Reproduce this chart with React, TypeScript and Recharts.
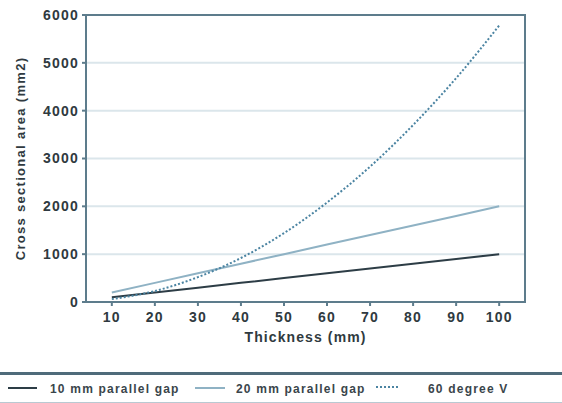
import { LineChart, Line, XAxis, YAxis, CartesianGrid, Legend, ReferenceArea } from "recharts";

const thickness = [10, 20, 30, 40, 50, 60, 70, 80, 90, 100];
const gap10 = [100, 200, 300, 400, 500, 600, 700, 800, 900, 1000];
const gap20 = [200, 400, 600, 800, 1000, 1200, 1400, 1600, 1800, 2000];
const vee60 = [60, 230, 520, 920, 1440, 2080, 2830, 3700, 4680, 5780];
const yTicks = [0, 1000, 2000, 3000, 4000, 5000, 6000];

const seriesNames = ["10 mm parallel gap", "20 mm parallel gap", "60 degree V"];

const data = thickness.map((t, i) => ({
  t,
  gap10: gap10[i],
  gap20: gap20[i],
  vee60: vee60[i],
}));

const FONT = "'Liberation Sans', Arial, sans-serif";
const TEXT = "#2f3a40";

const tickStyle = { fontFamily: FONT, fontSize: 14, fontWeight: 700, fill: TEXT, letterSpacing: 1.2 };
const legendText = { fontFamily: FONT, fontSize: 12, fontWeight: 700, fill: "#3a454b", letterSpacing: 1.2 };

const LegendBox = () => (
  <div
    style={{
      width: 562,
      height: 31,
      borderTop: "3px solid #4f6b7a",
      borderBottom: "1px solid #b9c9d2",
      boxSizing: "border-box",
      position: "relative",
    }}
  >
    <svg width={562} height={28} style={{ position: "absolute", left: 0, top: 0 }}>
      <line x1={8} x2={37} y1={13} y2={13} stroke="#2d3d46" strokeWidth={2} />
      <text x={50} y={18} style={legendText}>{seriesNames[0]}</text>
      <line x1={195} x2={225} y1={13} y2={13} stroke="#8fb2c4" strokeWidth={2} />
      <text x={236} y={18} style={legendText}>{seriesNames[1]}</text>
      <line x1={376} x2={400} y1={12} y2={12} stroke="#4b84a2" strokeWidth={2} strokeDasharray="2 2" />
      <text x={428} y={18} style={legendText}>{seriesNames[2]}</text>
    </svg>
  </div>
);

export default function App() {
  return (
    <div style={{ position: "absolute", left: 0, top: 0, width: 562, height: 403, background: "#fff" }}>
      <LineChart width={562} height={403} data={data} margin={{ top: 15, right: 37, bottom: 0, left: 0 }}>
        <CartesianGrid horizontal vertical={false} stroke="#dbe6eb" strokeWidth={2} />
        <XAxis
          dataKey="t"
          type="number"
          domain={[4, 106]}
          ticks={thickness}
          height={70}
          tickSize={4}
          stroke="#5d7c8c"
          strokeWidth={2}
          tick={tickStyle}
          tickMargin={6}
          label={{ value: "Thickness (mm)", position: "insideTop", offset: 30, style: { ...tickStyle, letterSpacing: 1.1 } }}
        />
        <YAxis
          domain={[0, 6000]}
          ticks={yTicks}
          width={86}
          tickSize={4}
          stroke="#5d7c8c"
          strokeWidth={2}
          tick={tickStyle}
          tickMargin={3}
          label={{
            value: "Cross sectional area (mm2)",
            angle: -90,
            position: "insideLeft",
            offset: 20,
            style: { ...tickStyle, fontSize: 13, letterSpacing: 1.3, textAnchor: "middle" },
          }}
        />
        <ReferenceArea x1={4} x2={106} y1={0} y2={6000} fill="none" stroke="#5d7c8c" strokeWidth={2} ifOverflow="visible" />
        <Line dataKey="gap10" name={seriesNames[0]} stroke="#2d3d46" strokeWidth={2} dot={false} isAnimationActive={false} type="linear" />
        <Line dataKey="gap20" name={seriesNames[1]} stroke="#8fb2c4" strokeWidth={2} dot={false} isAnimationActive={false} type="linear" />
        <Line dataKey="vee60" name={seriesNames[2]} stroke="#4b84a2" strokeWidth={2} strokeDasharray="2 2" dot={false} isAnimationActive={false} type="monotone" />
        <Legend verticalAlign="bottom" align="left" height={31} content={() => <LegendBox />} wrapperStyle={{ left: 0, width: 562 }} />
      </LineChart>
    </div>
  );
}
